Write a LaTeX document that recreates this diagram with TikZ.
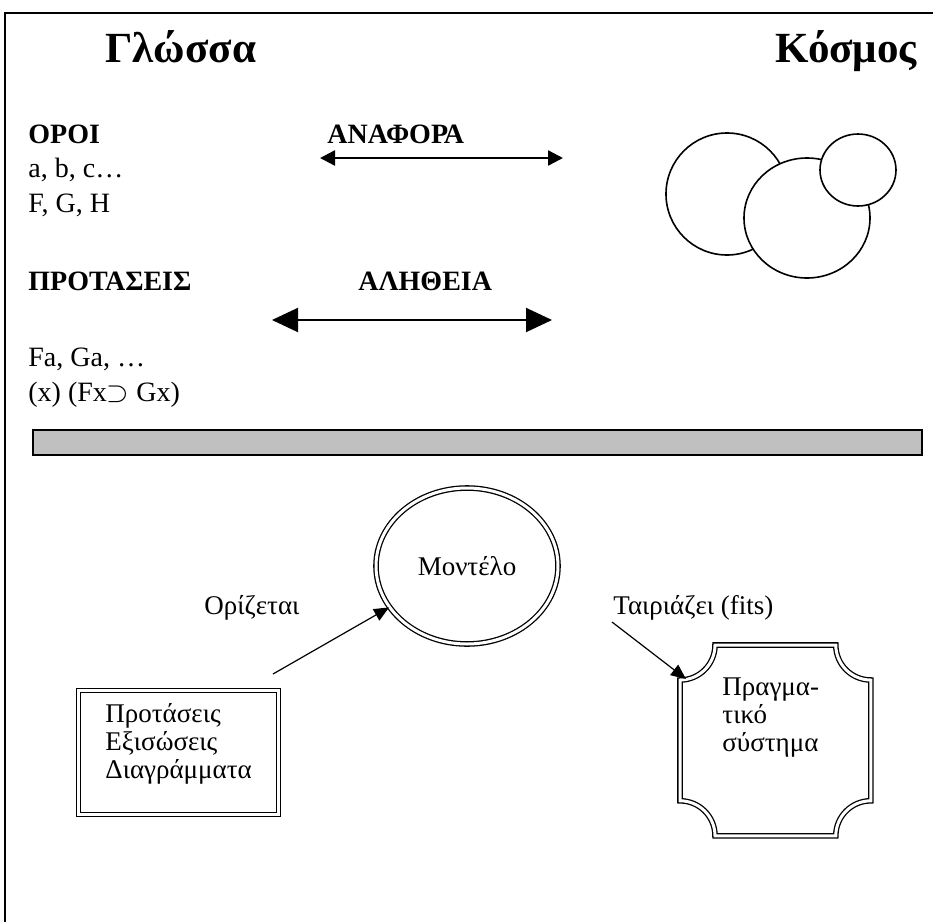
\documentclass[tikz,border=0pt]{standalone}
\usepackage{fontspec}
\setmainfont{Liberation Serif}
\usetikzlibrary{arrows.meta}
\usetikzlibrary{shapes.geometric}
\usetikzlibrary{positioning}

\definecolor{barfill}{RGB}{192,192,192}

\begin{document}
\begin{tikzpicture}[x=0.5pt,y=-0.5pt,
  title/.style={font=\fontsize{21.5}{25}\selectfont\bfseries, anchor=base west, inner sep=0pt},
  head/.style={font=\fontsize{14}{16}\selectfont\bfseries, anchor=base west, inner sep=0pt},
  item/.style={font=\fontsize{14}{17.5}\selectfont, anchor=base west, inner sep=0pt},
  lbl/.style={font=\fontsize{13.5}{14}\selectfont, inner sep=0pt},
  dbl/.style={draw, double, double distance=1.5pt, line width=0.65pt},
  world/.style={draw, fill=white, line width=0.8pt},
  refarrow/.style={line width=1.2pt, {Triangle[length=7.5pt,width=7.5pt]}-{Triangle[length=7.5pt,width=7.5pt]}},
  trutharrow/.style={line width=1pt, {Triangle[length=13pt,width=12pt]}-{Triangle[length=13pt,width=12pt]}},
  conn/.style={line width=0.6pt, -{Triangle[length=7.5pt,width=6.5pt]}}]
  \useasboundingbox (0,0) rectangle (933,922);
  \draw[line width=0.8pt] (5,922) -- (5,13) -- (933,13);

  \node[title] (lang) at (105,62) {Γλώσσα};
  \node[title] (world) at (775,62) {Κόσμος};

  \node[head] (terms) at (28,143) {ΟΡΟΙ};
  \node[item] (consts) at (28,177) {a, b, c…};
  \node[item] (preds) at (28,212) {F, G, H};
  \node[head] (ref) at (327,143) {ΑΝΑΦΟΡΑ};
  \coordinate (ref-l) at (320,158);
  \coordinate (ref-r) at (563,158);
  \draw[refarrow] (ref-l) -- (ref-r);

  \draw[world] (727,194) ellipse [x radius=61, y radius=61];
  \draw[world] (807,218) ellipse [x radius=63, y radius=60];
  \draw[world] (858,170) ellipse [x radius=38, y radius=36];

  \node[head] (sents) at (28,290) {ΠΡΟΤΑΣΕΙΣ};
  \node[head] (truth) at (358,290) {ΑΛΗΘΕΙΑ};
  \coordinate (truth-l) at (272,320);
  \coordinate (truth-r) at (552,320);
  \draw[trutharrow] (truth-l) -- (truth-r);
  \node[item] (atoms) at (28,366) {Fa, Ga, …};
  \node[item] (law) at (28,401) {(x) (Fx$\supset$ Gx)};

  \draw[fill=barfill, line width=1pt] (33,430) rectangle (922,455);

  \node[dbl, ellipse, minimum width=91pt, minimum height=78pt, lbl] (model) at (467,566) {Μοντέλο};
  \node[dbl, minimum width=100pt, minimum height=62pt, anchor=north west] (sentences) at (78,690) {};
  \node[lbl, anchor=north west, align=left] (sentxt) at (105,703) {Προτάσεις\\Εξισώσεις\\Διαγράμματα};
  \node[minimum width=95pt, minimum height=95pt, anchor=north west] (real) at (680,645) {};
  \draw[dbl] ([xshift=17.5pt]real.north west) -- ([xshift=-17.5pt]real.north east)
    arc[start angle=180, end angle=270, radius=17.5pt]
    -- ([yshift=17.5pt]real.south east)
    arc[start angle=90, end angle=180, radius=17.5pt]
    -- ([xshift=17.5pt]real.south west)
    arc[start angle=0, end angle=90, radius=17.5pt]
    -- ([yshift=-17.5pt]real.north west)
    arc[start angle=270, end angle=360, radius=17.5pt] -- cycle;
  \node[lbl, anchor=north west, align=left] (realtxt) at (722,677) {Πραγμα-\\τικό\\σύστημα};

  \node[lbl] (defines) at (252,608) {Ορίζεται};
  \node[lbl, anchor=west] (fits) at (613,608) {Ταιριάζει (fits)};
  \coordinate (defstart) at (273,674);
  \coordinate (fitstart) at (612,622);
  \draw[conn] (defstart) -- (model.208);
  \draw[conn] (fitstart) -- ([xshift=3pt,yshift=-17pt]real.north west);
\end{tikzpicture}
\end{document}
